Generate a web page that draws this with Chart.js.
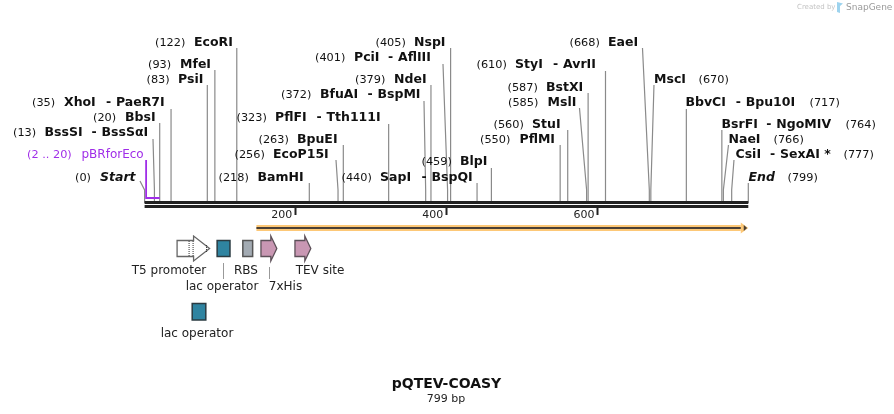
<!DOCTYPE html>
<html>
<head>
<meta charset="utf-8">
<title>pQTEV-COASY</title>
<style>
  html, body { margin: 0; padding: 0; background: #fff; }
  canvas { display: block; }
</style>
<script src="https://cdn.jsdelivr.net/npm/chart.js@4/dist/chart.umd.min.js"></script>
</head>
<body>
<canvas id="map" width="894" height="414"></canvas>
<script>
// sequence
const seqName = 'pQTEV-COASY';
const seqLength = 799;
const seqLengthLabel = '799 bp';
const tickValues = [200, 400, 600];

// single cutters, in map order
const siteNames = ['BssSI - BssSαI', 'BbsI', 'XhoI - PaeR7I', 'PsiI', 'MfeI', 'EcoRI', 'BamHI', 'EcoP15I', 'BpuEI', 'PflFI - Tth111I', 'BfuAI - BspMI', 'NdeI', 'PciI - AflIII', 'NspI', 'SapI - BspQI', 'BlpI', 'PflMI', 'StuI', 'MslI', 'BstXI', 'StyI - AvrII', 'EaeI', 'MscI', 'BbvCI - Bpu10I', 'BsrFI - NgoMIV', 'NaeI', 'CsiI - SexAI *'];
const sitePositions = [13, 20, 35, 83, 93, 122, 218, 256, 263, 323, 372, 379, 401, 405, 440, 459, 550, 560, 585, 587, 610, 668, 670, 717, 764, 766, 777];

// primer
const primerName = 'pBRforEco';
const primerStart = 2;
const primerEnd = 20;

// features drawn under the ruler
const featureNames = ['T5 promoter', 'lac operator', 'RBS', '7xHis', 'TEV site', 'lac operator'];
const featureStarts = [43, 96, 130, 154, 199, 63];
const featureEnds = [86, 113, 143, 175, 220, 81];
const cdsStart = 148;
const cdsEnd = 799;

// layout: [number x, name x, text y, leader top y, slanted leader x or null, second name x]
const siteLayout = [
  [13, 44.5, 132, 139, 153, 101.5], [93, 125, 117, 123, null], [32, 64, 102, 109, null, 116],
  [146.5, 178, 79, 85, null], [148, 180, 64, 70, null], [155, 194, 42, 48, null],
  [218.5, 257.5, 177, 183, null], [234.5, 273, 154, 160, 336], [258.5, 297, 139, 145, null],
  [236.5, 275, 117, 124, null, 326.5], [281, 320, 94, 101, 424, 377.5], [355, 394, 79, 85, null],
  [315, 354, 57, 64, 443, 398], [375.5, 414, 42, 48, null], [341.5, 380, 177, 183, null, 431.5],
  [421.5, 460, 161, 168, null], [480, 519.5, 139, 145, null], [493.5, 532, 124, 130, null],
  [508, 547.5, 102, 108, 579.5], [507.5, 546, 87, 93, null], [476.5, 515, 64, 71, null, 563],
  [569.5, 608, 42, 48, 642.5], [698.5, 654, 79, 85, 654], [809.5, 685.5, 102, 109, null, 745.7],
  [845.5, 721.5, 124, 130, null, 776.3], [773.5, 728.5, 139, 145, 728.5], [843.5, 735.5, 154, 160, 734, 780]
];
const kinkY = 190;
const rulerY = 203;

const toBp = px => (px - 144.6) / 0.7556;

const BLACK = '#111';
const GREY = '#8a8a8a';
const PURPLE = '#a02ee8';

const datasets = [];

// ruler first, chart.js paints the first dataset on top
datasets.push({ data: [{ x: 0, y: 202.5 }, { x: seqLength, y: 202.5 }], borderColor: '#222', borderWidth: 3 });
datasets.push({ data: [{ x: 0, y: 206.5 }, { x: seqLength, y: 206.5 }], borderColor: '#222', borderWidth: 3 });

// primer
datasets.push({ data: [{ x: primerStart, y: 160 }, { x: primerStart, y: 198 }, { x: primerEnd, y: 198 }], borderColor: PURPLE, borderWidth: 1.8 });

// cut site leaders
sitePositions.forEach(function(pos, i) {
  const l = siteLayout[i];
  const pts = [{ x: pos, y: rulerY }];
  if (l[4] !== null) {
    pts.push({ x: pos, y: kinkY });
    pts.push({ x: toBp(l[4]), y: l[3] });
  } else {
    pts.push({ x: pos, y: l[3] });
  }
  datasets.push({ data: pts, borderColor: GREY, borderWidth: 1.2 });
});

// start / end markers
datasets.push({ data: [{ x: 0, y: rulerY }, { x: 0, y: kinkY }, { x: toBp(140), y: 181 }], borderColor: GREY, borderWidth: 1.2 });
datasets.push({ data: [{ x: seqLength, y: rulerY }, { x: seqLength, y: 183 }], borderColor: GREY, borderWidth: 1.2 });

// orange cds bar
datasets.push({ data: [{ x: cdsStart, y: 228 }, { x: cdsEnd - 3, y: 228 }], borderColor: '#4a4036', borderWidth: 2 });
datasets.push({ data: [{ x: cdsStart, y: 228 }, { x: cdsEnd - 10, y: 228 }], borderColor: '#fdc877', borderWidth: 6 });

function box(ctx, x0, x1, top, bottom, fill, stroke) {
  ctx.fillStyle = fill;
  ctx.strokeStyle = stroke;
  ctx.lineWidth = 1.5;
  ctx.fillRect(x0, top, x1 - x0, bottom - top);
  ctx.strokeRect(x0, top, x1 - x0, bottom - top);
}

function arrow(ctx, x0, neck, tip, fill, stroke) {
  ctx.fillStyle = fill;
  ctx.strokeStyle = stroke;
  ctx.lineWidth = 1.3;
  ctx.beginPath();
  ctx.moveTo(x0, 240.5);
  ctx.lineTo(neck, 240.5);
  ctx.lineTo(neck, 236);
  ctx.lineTo(tip, 248.5);
  ctx.lineTo(neck, 261);
  ctx.lineTo(neck, 256.5);
  ctx.lineTo(x0, 256.5);
  ctx.closePath();
  ctx.fill();
  ctx.stroke();
}

const mapDrawing = {
  id: 'mapDrawing',
  afterDraw(chart) {
    const ctx = chart.ctx;
    const x = chart.scales.x;
    const px = v => x.getPixelForValue(v);
    ctx.save();
    ctx.textBaseline = 'middle';
    ctx.textAlign = 'left';

    // site labels
    siteNames.forEach(function(name, i) {
      const l = siteLayout[i];
      const y = l[2] + 1;
      ctx.fillStyle = BLACK;
      ctx.font = '11.3px "DejaVu Sans"';
      ctx.fillText('(' + sitePositions[i] + ')', l[0], y);
      ctx.font = 'bold 12.5px "DejaVu Sans"';
      const parts = name.split(' - ');
      ctx.fillText(parts[0], l[1], y);
      if (parts[1]) {
        ctx.fillText('-', l[5] - 10, y);
        ctx.fillText(parts[1], l[5], y);
      }
    });

    ctx.fillStyle = BLACK;
    ctx.font = '11.3px "DejaVu Sans"';
    ctx.fillText('(0)', 75, 178);
    ctx.fillText('(' + seqLength + ')', 787.5, 178);
    ctx.font = 'italic bold 12.5px "DejaVu Sans"';
    ctx.fillText('Start', 100, 178);
    ctx.fillText('End', 748.5, 178);

    ctx.fillStyle = PURPLE;
    ctx.font = '11.3px "DejaVu Sans"';
    ctx.fillText('(' + primerStart + ' .. ' + primerEnd + ')', 27, 155);
    ctx.font = '12px "DejaVu Sans"';
    ctx.fillText(primerName, 81.5, 155);

    // orange head
    ctx.fillStyle = '#fdc877';
    ctx.beginPath();
    ctx.moveTo(px(cdsEnd - 10), 222.5);
    ctx.lineTo(px(cdsEnd), 228);
    ctx.lineTo(px(cdsEnd - 10), 233.5);
    ctx.fill();
    ctx.fillStyle = '#4a4036';
    ctx.beginPath();
    ctx.moveTo(px(cdsEnd - 6), 225);
    ctx.lineTo(px(cdsEnd - 1.5), 228);
    ctx.lineTo(px(cdsEnd - 6), 231);
    ctx.fill();

    // T5 promoter
    arrow(ctx, px(featureStarts[0]), px(featureEnds[0]) - 16, px(featureEnds[0]), '#fff', '#666');
    ctx.strokeStyle = '#333';
    ctx.lineWidth = 1;
    ctx.setLineDash([1, 1]);
    [px(featureStarts[0]) + 12, px(featureStarts[0]) + 16].forEach(function(dx) {
      ctx.beginPath();
      ctx.moveTo(dx, 241);
      ctx.lineTo(dx, 256);
      ctx.stroke();
    });
    ctx.beginPath();
    ctx.moveTo(px(featureEnds[0]) - 3, 245);
    ctx.lineTo(px(featureEnds[0]) - 3, 252);
    ctx.stroke();
    ctx.setLineDash([]);

    // lac operator, RBS
    box(ctx, px(featureStarts[1]), px(featureEnds[1]), 240.5, 256.5, '#2f84a1', '#2b3b42');
    box(ctx, px(featureStarts[2]), px(featureEnds[2]), 240.5, 256.5, '#a3abb3', '#555');
    box(ctx, px(featureStarts[5]), px(featureEnds[5]), 303.5, 320, '#2f84a1', '#2b3b42');

    // 7xHis, TEV site
    arrow(ctx, px(featureStarts[3]), px(featureEnds[3]) - 6, px(featureEnds[3]), '#c997b3', '#5c5058');
    arrow(ctx, px(featureStarts[4]), px(featureEnds[4]) - 6, px(featureEnds[4]), '#c997b3', '#5c5058');

    // feature leaders
    ctx.strokeStyle = '#999';
    ctx.lineWidth = 1;
    ctx.beginPath();
    ctx.moveTo(223.5, 263);
    ctx.lineTo(223.5, 279);
    ctx.moveTo(269.5, 267);
    ctx.lineTo(269.5, 279);
    ctx.stroke();

    // feature labels
    ctx.fillStyle = '#222';
    ctx.font = '12px "DejaVu Sans"';
    ctx.textAlign = 'center';
    ctx.fillText(featureNames[0], 169, 270.5);
    ctx.fillText(featureNames[1], 222, 286.5);
    ctx.fillText(featureNames[2], 246, 270.5);
    ctx.fillText(featureNames[3], 285.5, 286.5);
    ctx.fillText(featureNames[4], 320, 270.5);
    ctx.fillText(featureNames[5], 197, 333.5);

    // title
    ctx.fillStyle = BLACK;
    ctx.font = 'bold 14px "DejaVu Sans"';
    ctx.fillText(seqName, 446.5, 384);
    ctx.fillStyle = '#222';
    ctx.font = '11px "DejaVu Sans"';
    ctx.fillText(seqLengthLabel, 446, 399);

    // watermark
    ctx.textAlign = 'left';
    ctx.fillStyle = '#c4c4c4';
    ctx.font = '7px "DejaVu Sans"';
    ctx.fillText('Created by', 797, 7.5);
    ctx.fillStyle = '#9dd3ee';
    ctx.beginPath();
    ctx.moveTo(837, 2);
    ctx.lineTo(843, 3.5);
    ctx.lineTo(840, 6);
    ctx.lineTo(840, 13);
    ctx.lineTo(837, 12);
    ctx.fill();
    ctx.fillStyle = '#9a9a9a';
    ctx.font = '9px "DejaVu Sans"';
    ctx.fillText('SnapGene', 846, 7.5);
    ctx.restore();
  }
};

new Chart(document.getElementById('map'), {
  type: 'scatter',
  data: { datasets: datasets.map(function(d) {
    return Object.assign({ showLine: true, pointRadius: 0, tension: 0, clip: false, fill: false, borderCapStyle: 'butt' }, d);
  }) },
  plugins: [mapDrawing],
  options: {
    responsive: false,
    animation: false,
    layout: { padding: { left: 144.6, right: 145.7, top: 0, bottom: 0 } },
    plugins: { legend: { display: false }, tooltip: { enabled: false } },
    scales: {
      x: {
        type: 'linear',
        min: 0,
        max: seqLength,
        position: { y: 208 },
        afterBuildTicks: function(s) { s.ticks = tickValues.map(v => ({ value: v })); },
        border: { display: false },
        grid: { drawOnChartArea: false, drawTicks: true, tickLength: 7, tickWidth: 2, tickColor: '#222' },
        ticks: { align: 'end', padding: -6, maxRotation: 0, autoSkip: false, color: '#222', font: { family: 'DejaVu Sans', size: 11 }, callback: v => v + ' ' }
      },
      y: { type: 'linear', min: 0, max: 414, reverse: true, display: false }
    }
  }
});
</script>
</body>
</html>
